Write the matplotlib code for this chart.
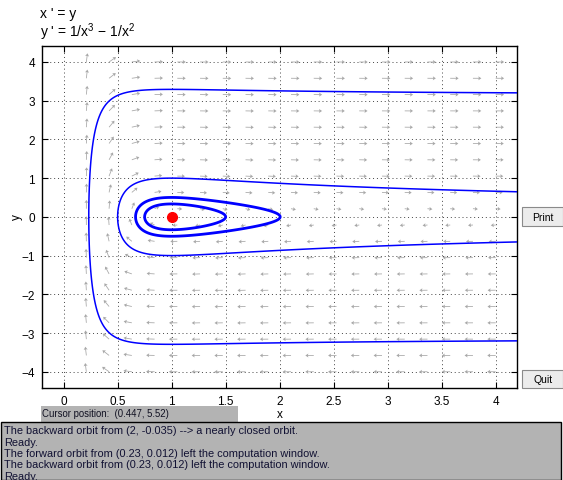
import matplotlib
matplotlib.use("Agg")
import matplotlib.pyplot as plt
from matplotlib.patches import Rectangle
import numpy as np

plt.rcParams["font.family"] = ["Liberation Sans", "DejaVu Sans"]
plt.rcParams["mathtext.fontset"] = "custom"
plt.rcParams["mathtext.rm"] = "Liberation Sans"
plt.rcParams["mathtext.it"] = "Liberation Sans"

# window and ticks
x_lim = (-0.2, 4.2)
y_lim = (-4.42, 4.42)
x_ticks = [0, 0.5, 1, 1.5, 2, 2.5, 3, 3.5, 4]
x_tick_labels = ["0", "0.5", "1", "1.5", "2", "2.5", "3", "3.5", "4"]
y_ticks = [-4, -3, -2, -1, 0, 1, 2, 3, 4]
y_tick_labels = ["\u22124", "\u22123", "\u22122", "\u22121", "0", "1", "2", "3", "4"]

open_orbit_starts = [(0.233, 0.012), (0.5, 0.0)]
closed_orbit_starts = [(2.0, -0.035), (1.5, 0.0)]
equilibrium = (1.0, 0.0)

messages = [
    "The backward orbit from (2, -0.035) --> a nearly closed orbit.",
    "Ready.",
    "The forward orbit from (0.23, 0.012) left the computation window.",
    "The backward orbit from (0.23, 0.012) left the computation window.",
    "Ready.",
]
cursor_text = "Cursor position:  (0.447, 5.52)"


def rhs(x, y):
    # x' = y, y' = 1/x^3 - 1/x^2
    with np.errstate(divide="ignore", invalid="ignore"):
        return y, 1.0 / x**3 - 1.0 / x**2


def energy(x, y):
    # conserved quantity of the system
    return 0.5 * y**2 + 0.5 / x**2 - 1.0 / x


W, H = 563, 481
fig = plt.figure(figsize=(W / 100, H / 100), dpi=100)
ax = fig.add_axes([42 / W, 1 - 389 / H, (517.3 - 42) / W, (389 - 46.7) / H])
ax.set_xlim(*x_lim)
ax.set_ylim(*y_lim)

# direction field: tails on a 20x20 grid, arrow length saturates with speed
gx, gy = np.meshgrid(np.linspace(0, 4, 20), np.linspace(-4, 4, 20))
u, v = rhs(gx, gy)
px_x = 475.3 / (x_lim[1] - x_lim[0])
px_y = 342.3 / (y_lim[1] - y_lim[0])
su, sv = u * px_x, v * px_y
with np.errstate(invalid="ignore"):
    mag = np.hypot(su, sv)
    length = mag / (mag + 18.0)
    su = np.ma.masked_invalid(su / mag * length)
    sv = np.ma.masked_invalid(sv / mag * length)
ax.quiver(gx, gy, su, sv, color="#a8a8a8", pivot="tail", angles="uv",
          scale_units="inches", scale=1 / 0.088, units="inches", width=0.008,
          headwidth=5, headlength=3.8, headaxislength=3.2, minlength=0.5, zorder=2)

# orbits as level sets of the energy
cx, cy = np.meshgrid(np.linspace(0.05, 4.2, 900), np.linspace(-4.42, 4.42, 900))
E = energy(cx, cy)
open_levels = sorted(energy(np.array(p[0]), np.array(p[1])) for p in open_orbit_starts)
closed_levels = sorted(energy(np.array(p[0]), np.array(p[1])) for p in closed_orbit_starts)
ax.contour(cx, cy, E, levels=open_levels, colors="#0000ff", linewidths=1.1,
           linestyles="solid", zorder=3)
ax.contour(cx, cy, E, levels=closed_levels, colors="#0000ff", linewidths=2.0,
           linestyles="solid", zorder=3)
ax.plot(*equilibrium, "o", color="red", ms=7, mec="red", zorder=4)

ax.set_xticks(x_ticks)
ax.set_xticklabels(x_tick_labels)
ax.set_yticks(y_ticks)
ax.set_yticklabels(y_tick_labels)
ax.tick_params(direction="in", length=4, top=True, right=True, labelsize=8.5, pad=5)
ax.grid(True, color="#444444", linestyle=(0, (1, 3)), linewidth=0.7)
ax.set_axisbelow(True)
for s in ax.spines.values():
    s.set_linewidth(1.0)
ax.set_xlabel("x", fontsize=8.5, labelpad=1)
fig.text(17 / W, 1 - 217 / H, "y", fontsize=8.5, rotation=90, ha="center", va="center")

# equation text
fig.text(40 / W, 1 - 14 / H, "x ' = y", fontsize=10, va="center")
fig.text(40 / W, 1 - 32 / H, "y ' = 1/x$^{3}$ \u2212 1/x$^{2}$", fontsize=10, va="center")

# buttons
for label, y0, y1 in [("Print", 208.3, 227.3), ("Quit", 370.7, 389.3)]:
    fig.patches.append(Rectangle((522 / W, 1 - y1 / H), (563 - 522) / W, (y1 - y0) / H,
                                 transform=fig.transFigure, facecolor="#ececec",
                                 edgecolor="#8a8a8a", linewidth=0.8))
    fig.text(543 / W, 1 - (y0 + y1) / 2 / H, label, fontsize=7.5, ha="center", va="center")

# cursor position box
fig.patches.append(Rectangle((40.7 / W, 1 - 422.7 / H), (238 - 40.7) / W, 16 / H,
                             transform=fig.transFigure, facecolor="#b3b3b3", edgecolor="none"))
fig.text(42 / W, 1 - 414.5 / H, cursor_text, fontsize=6.9, va="center", color="#111122")

# message window
fig.patches.append(Rectangle((0.8 / W, 0), (560.5 - 0.8) / W, (481 - 423) / H,
                             transform=fig.transFigure, facecolor="#b3b3b3",
                             edgecolor="black", linewidth=1.0))
for i, line in enumerate(messages):
    fig.text(4 / W, 1 - (431.5 + 11.3 * i) / H, line, fontsize=7.9, va="center",
             color="#111133")

fig.savefig("out.png", dpi=100)
